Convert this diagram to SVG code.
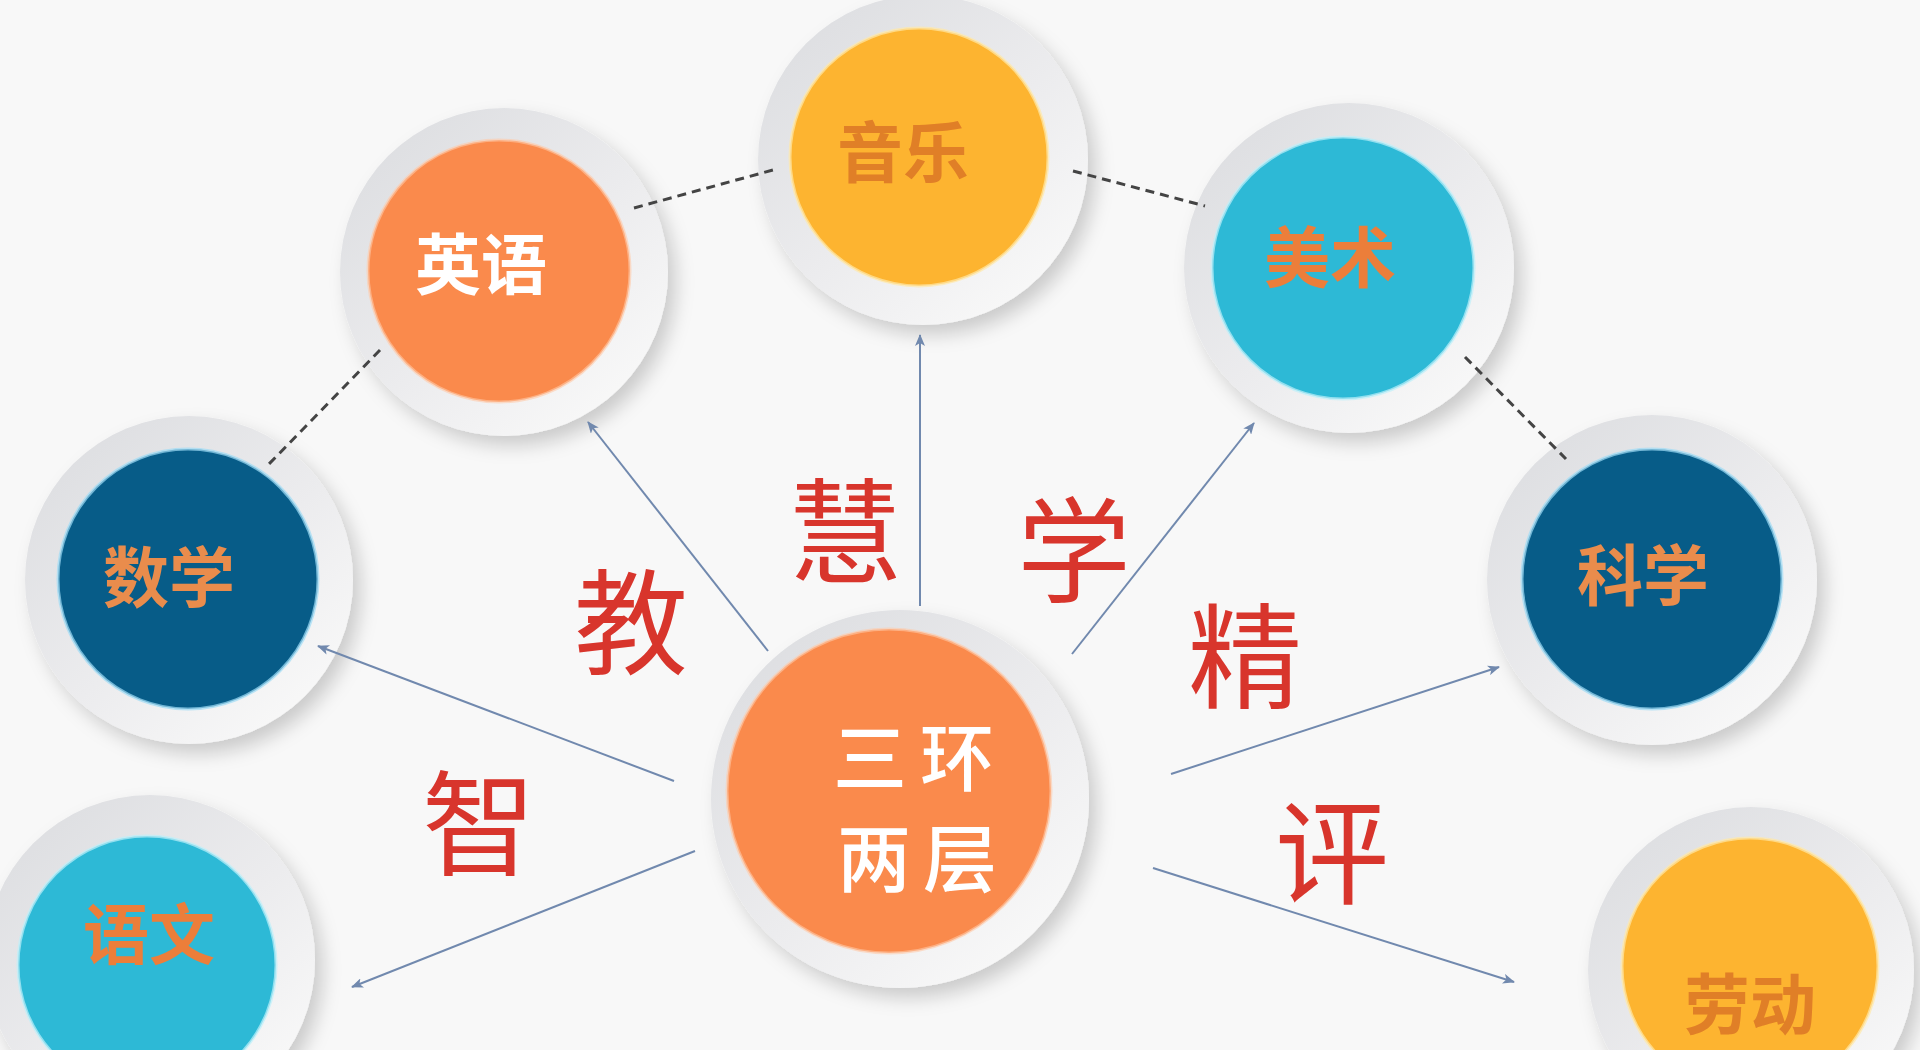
<svg xmlns="http://www.w3.org/2000/svg" width="1920" height="1050" viewBox="0 0 1920 1050">
<defs>
<style>
.ring{fill:url(#ringGrad);filter:url(#shadow)}
.inner{stroke-width:3}
.orange{fill:#FA8A4C;stroke:#FFC9A8;stroke-opacity:.6}
.yellow{fill:#FDB430;stroke:#FFE8A8;stroke-opacity:.7}
.cyan{fill:#2DB9D6;stroke:#BDEFFA;stroke-opacity:.7}
.navy{fill:#075C88;stroke:#9EDCF5;stroke-opacity:.7}
.lbl{font-family:"Noto Sans CJK SC","Noto Sans CJK JP",sans-serif;font-weight:700;font-size:66px;text-anchor:middle;dominant-baseline:central}
.onorange{fill:#FFFFFF}
.onyellow{fill:#E07F27}
.oncyan{fill:#EC7E3A}
.onnavy{fill:#E98C4C}
.ctr{font-family:"Noto Sans CJK SC","Noto Sans CJK JP",sans-serif;font-weight:500;font-size:74px;text-anchor:middle;dominant-baseline:central;fill:#FFFFFF}
.big{font-family:"Noto Sans CJK SC","Noto Sans CJK JP",sans-serif;font-weight:400;font-size:114px;text-anchor:middle;dominant-baseline:central;fill:#D8352C}
.arrow{stroke:#7189AE;stroke-width:2;fill:none;marker-end:url(#ah)}
.dash{stroke:#444444;stroke-width:3;fill:none;stroke-dasharray:9 6}
</style>
<linearGradient id="ringGrad" x1="0.15" y1="0.1" x2="0.85" y2="0.9">
<stop offset="0" stop-color="#DEDFE2"/>
<stop offset="0.55" stop-color="#ECECEE"/>
<stop offset="1" stop-color="#F8F8F8"/>
</linearGradient>
<filter id="shadow" x="-20%" y="-20%" width="150%" height="150%">
<feDropShadow dx="8" dy="10" stdDeviation="9" flood-color="#000000" flood-opacity="0.18"/>
</filter>
<marker id="ah" viewBox="0 0 12 10" refX="11" refY="5" markerWidth="12" markerHeight="10" markerUnits="userSpaceOnUse" orient="auto">
<path d="M0,0 L12,5 L0,10 L3,5 Z" fill="#7189AE"/>
</marker>
</defs>
<rect x="0" y="0" width="1920" height="1050" fill="#F8F8F8"/>

<g id="node-yingyu">
<circle class="ring" cx="504" cy="272" r="164"/>
<circle class="inner orange" cx="499" cy="271" r="131"/>
<text class="lbl onorange" x="481" y="260">英语</text>
</g>
<g id="node-yinyue">
<circle class="ring" cx="923" cy="160" r="165"/>
<circle class="inner yellow" cx="919" cy="157" r="129"/>
<text class="lbl onyellow" x="903" y="148">音乐</text>
</g>
<g id="node-meishu">
<circle class="ring" cx="1349" cy="268" r="165"/>
<circle class="inner cyan" cx="1343" cy="268" r="131"/>
<text class="lbl oncyan" x="1330" y="253">美术</text>
</g>
<g id="node-shuxue">
<circle class="ring" cx="189" cy="580" r="164"/>
<circle class="inner navy" cx="188" cy="579" r="130"/>
<text class="lbl onnavy" x="169" y="573">数学</text>
</g>
<g id="node-kexue">
<circle class="ring" cx="1652" cy="580" r="165"/>
<circle class="inner navy" cx="1652" cy="579" r="130"/>
<text class="lbl onnavy" x="1643" y="571">科学</text>
</g>
<g id="node-yuwen">
<circle class="ring" cx="150" cy="960" r="165"/>
<circle class="inner cyan" cx="147" cy="965" r="129"/>
<text class="lbl oncyan" x="149" y="930">语文</text>
</g>
<g id="node-laodong">
<circle class="ring" cx="1751" cy="970" r="163"/>
<circle class="inner yellow" cx="1750" cy="966" r="128"/>
<text class="lbl onyellow" x="1750" y="1000">劳动</text>
</g>
<g id="node-center">
<circle class="ring" cx="900" cy="799" r="189"/>
<circle class="inner orange" cx="889" cy="791" r="162"/>
<text class="ctr" x="870" y="752">三</text>
<text class="ctr" x="957" y="752">环</text>
<text class="ctr" x="874" y="853">两</text>
<text class="ctr" x="960" y="853">层</text>
</g>

<g id="connectors">
<line class="arrow" x1="768" y1="651" x2="588" y2="422"/>
<line class="arrow" x1="920" y1="606" x2="920" y2="335"/>
<line class="arrow" x1="1072" y1="654" x2="1254" y2="423"/>
<line class="arrow" x1="674" y1="781" x2="318" y2="646"/>
<line class="arrow" x1="1171" y1="774" x2="1499" y2="667"/>
<line class="arrow" x1="695" y1="851" x2="352" y2="987"/>
<line class="arrow" x1="1153" y1="868" x2="1514" y2="982"/>
<line class="dash" x1="634" y1="208" x2="773" y2="170"/>
<line class="dash" x1="380" y1="350" x2="269" y2="464"/>
<line class="dash" x1="1073" y1="171" x2="1205" y2="206"/>
<line class="dash" x1="1465" y1="357" x2="1566" y2="459"/>
</g>

<g id="slogan">
<text class="big" x="631" y="615">教</text>
<text class="big" x="845" y="524">慧</text>
<text class="big" x="1074" y="543">学</text>
<text class="big" x="1245" y="649">精</text>
<text class="big" x="479" y="816">智</text>
<text class="big" x="1332" y="845">评</text>
</g>
</svg>
